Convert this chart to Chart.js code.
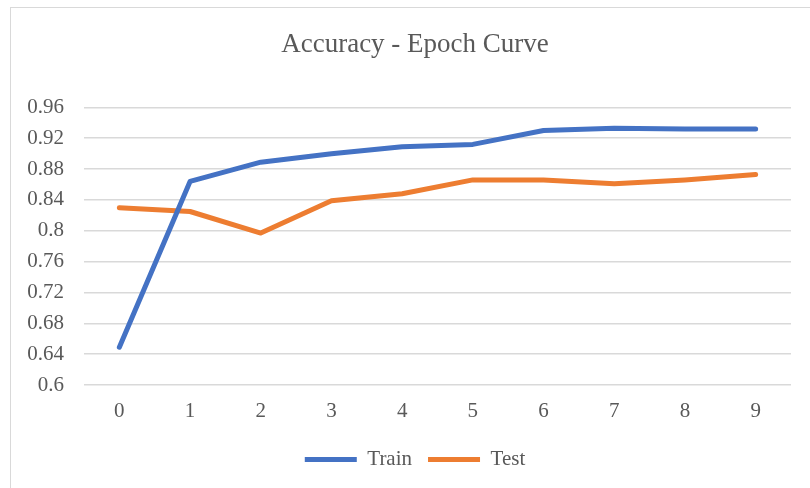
<!DOCTYPE html>
<html>
<head>
<meta charset="utf-8">
<script src="https://cdn.jsdelivr.net/npm/chart.js@4/dist/chart.umd.min.js"></script>
<style>
  html, body { margin: 0; padding: 0; background: #ffffff; }
  #wrap { position: relative; width: 810px; height: 488px; overflow: hidden; }
  #frame { position: absolute; left: 10px; top: 7px; width: 900px; height: 600px; border: 1.5px solid #d9d9d9; box-sizing: border-box; }
  canvas { position: absolute; left: 0; top: 0; }
</style>
</head>
<body>
<div id="wrap">
  <div id="frame"></div>
  <canvas id="c" width="810" height="488"></canvas>
</div>
<script>
const epochs = ['0', '1', '2', '3', '4', '5', '6', '7', '8', '9'];
const trainAcc = [0.649, 0.864, 0.889, 0.900, 0.909, 0.912, 0.930, 0.933, 0.932, 0.932];
const testAcc  = [0.830, 0.825, 0.797, 0.839, 0.848, 0.866, 0.866, 0.861, 0.866, 0.873];
const yMin = 0.6, yMax = 0.96, yStep = 0.04;

const serif = "'Liberation Serif', 'Times New Roman', serif";
const textColor = '#595959';
const gridColor = '#d9d9d9';

new Chart(document.getElementById('c'), {
  type: 'line',
  data: {
    labels: epochs,
    datasets: [
      { label: 'Train', data: trainAcc, borderColor: '#4472C4', backgroundColor: '#4472C4',
        borderWidth: 5, pointRadius: 0, tension: 0, borderCapStyle: 'round', borderJoinStyle: 'round', yAxisID: 'y' },
      { label: 'Test', data: testAcc, borderColor: '#ED7D31', backgroundColor: '#ED7D31',
        borderWidth: 5, pointRadius: 0, tension: 0, borderCapStyle: 'round', borderJoinStyle: 'round', yAxisID: 'y' }
    ]
  },
  options: {
    responsive: false,
    animation: false,
    devicePixelRatio: 1,
    layout: { padding: { left: 20, right: 0, top: 0, bottom: 8 } },
    plugins: {
      title: {
        display: true,
        text: 'Accuracy - Epoch Curve',
        color: textColor,
        font: { family: serif, size: 27, weight: 'normal' },
        padding: { top: 29, bottom: 46 }
      },
      legend: {
        display: true,
        position: 'bottom',
        labels: {
          color: textColor,
          font: { family: serif, size: 21 },
          usePointStyle: true,
          pointStyle: 'line',
          pointStyleWidth: 52,
          padding: 16
        }
      },
      tooltip: { enabled: false }
    },
    scales: {
      x: {
        offset: true,
        grid: { display: false, drawTicks: false },
        border: { display: false },
        ticks: { color: textColor, font: { family: serif, size: 21 }, padding: 14, maxRotation: 0 },
        afterFit: (s) => { s.height = 48; }
      },
      y: {
        position: 'left',
        min: yMin, max: yMax,
        grid: { color: gridColor, lineWidth: 1.5, drawTicks: false },
        border: { display: false },
        ticks: {
          stepSize: yStep,
          color: textColor,
          font: { family: serif, size: 21 },
          padding: 20,
          callback: (v) => String(parseFloat(v.toFixed(2)))
        },
        afterFit: (s) => { s.width = 64; }
      },
      yRight: {
        position: 'right',
        display: true,
        min: yMin, max: yMax,
        grid: { display: false, drawTicks: false },
        border: { display: false },
        ticks: { display: false },
        afterFit: (s) => { s.width = 19; }
      }
    }
  }
});
</script>
</body>
</html>
